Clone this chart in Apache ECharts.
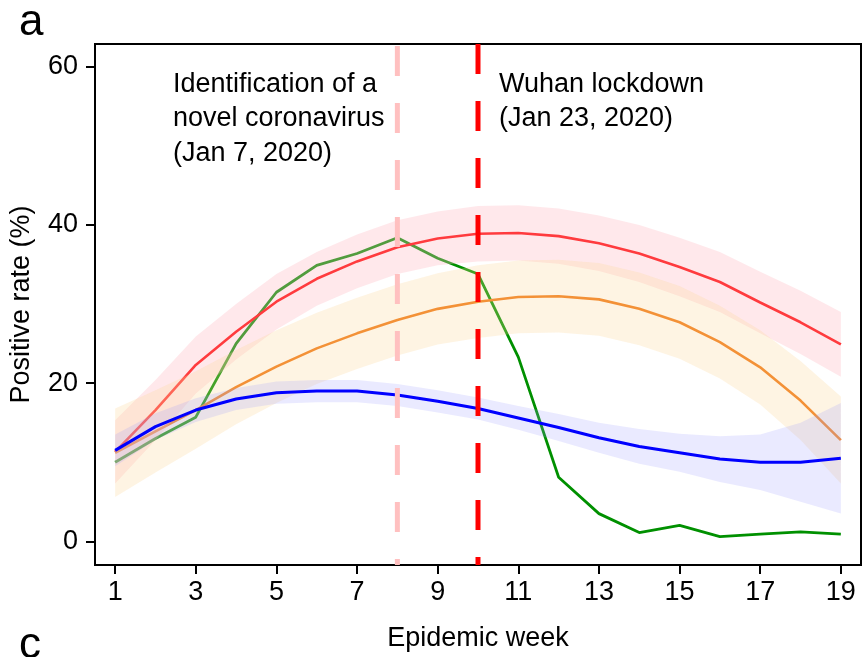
<!DOCTYPE html>
<html><head><meta charset="utf-8">
<script src="https://cdn.jsdelivr.net/npm/echarts@6/dist/echarts.min.js"></script>
<style>html,body{margin:0;padding:0;background:#fff}#c{width:864px;height:657px}</style>
</head><body><div id="c"></div>
<script>
// ---- data ----
const weeks = [1,2,3,4,5,6,7,8,9,10,11,12,13,14,15,16,17,18,19];
const xTicks = [1,3,5,7,9,11,13,15,17,19];
const yTicks = [0,20,40,60];
const eventWeeks = [8, 10];
const eventLabels = ['Identification of a\nnovel coronavirus\n(Jan 7, 2020)', 'Wuhan lockdown\n(Jan 23, 2020)'];

const observed = [10.0,13.0,15.7,25.0,31.5,34.9,36.4,38.4,35.8,33.8,23.3,8.1,3.5,1.1,2.0,0.6,0.9,1.2,0.9];

const redFit   = [11.3,16.6,22.3,26.5,30.3,33.2,35.4,37.2,38.3,38.9,39.0,38.6,37.7,36.4,34.7,32.8,30.2,27.7,24.9];
const redUpper = [15.3,20.4,25.9,30.0,33.8,36.6,38.8,40.6,41.7,42.4,42.5,42.1,41.2,40.0,38.4,36.6,34.1,31.7,29.0];
const redLower = [7.3,12.8,18.7,23.0,26.8,29.8,32.0,33.8,34.9,35.4,35.5,35.1,34.2,32.8,31.0,29.0,26.3,23.7,20.8];

const orangeFit   = [11.2,13.9,16.6,19.5,22.1,24.4,26.3,28.0,29.4,30.3,30.9,31.0,30.6,29.4,27.7,25.2,22.0,17.8,12.8];
const orangeUpper = [16.8,19.1,21.5,24.2,26.7,28.9,30.8,32.5,33.9,34.9,35.5,35.6,35.2,34.0,32.3,29.8,26.7,22.8,18.3];
const orangeLower = [5.6,8.7,11.7,14.8,17.5,19.9,21.8,23.5,24.9,25.7,26.3,26.4,26.0,24.8,23.1,20.6,17.3,12.8,7.3];

const blueFit   = [11.5,14.5,16.6,18.0,18.8,19.0,19.0,18.5,17.7,16.8,15.6,14.4,13.1,12.0,11.2,10.4,10.0,10.0,10.5];
const blueUpper = [13.5,16.2,18.1,19.4,20.2,20.4,20.4,19.9,19.1,18.2,17.1,16.1,15.0,14.2,13.6,13.3,13.5,15.0,17.5];
const blueLower = [9.5,12.8,15.1,16.6,17.4,17.6,17.6,17.1,16.3,15.4,14.1,12.7,11.2,9.8,8.8,7.5,6.5,5.0,3.5];

// ---- chart ----
const FONT = '"Liberation Sans", Arial, sans-serif';
const Y_MIN = -3, Y_MAX = 62.9;
const chart = echarts.init(document.getElementById('c'), null, {renderer: 'canvas'});

function pairs(ys) { return weeks.map((w, i) => [w, ys[i]]); }

function band(upper, lower, color, z) {
  return {
    type: 'custom', z: z, silent: true, clip: true,
    data: [[weeks[0], upper[0]]],
    renderItem: function (params, api) {
      if (params.dataIndex !== 0) return null;
      const pts = [];
      for (let i = 0; i < weeks.length; i++) pts.push(api.coord([weeks[i], upper[i]]));
      for (let i = weeks.length - 1; i >= 0; i--) pts.push(api.coord([weeks[i], lower[i]]));
      return { type: 'polygon', shape: { points: pts }, style: { fill: color } };
    }
  };
}

function line(ys, color, width, z) {
  return {
    type: 'line', z: z, data: pairs(ys), symbol: 'none', silent: true,
    lineStyle: { color: color, width: width }, animation: false
  };
}

function vline(week, color, offset) {
  return {
    type: 'line', z: 10, symbol: 'none', silent: true, animation: false,
    data: [[week, Y_MAX], [week, Y_MIN]],
    lineStyle: { color: color, width: 5, type: [30, 27], dashOffset: offset, cap: 'butt' }
  };
}

const axisCommon = {
  axisLine: { show: true, onZero: false, lineStyle: { color: '#000', width: 2 } },
  splitLine: { show: false },
  nameTextStyle: { fontSize: 27, color: '#000', fontFamily: FONT },
};

chart.setOption({
  animation: false,
  grid: { left: 95, right: 3, top: 44, bottom: 92, show: true, borderColor: '#000', borderWidth: 2, backgroundColor: 'transparent' },
  xAxis: Object.assign({}, axisCommon, {
    type: 'value', min: 0.5, max: 19.5,
    axisTick: { show: true, length: 9, customValues: xTicks, lineStyle: { color: '#000', width: 2 } },
    axisLabel: { customValues: xTicks, margin: 14, fontSize: 27, color: '#000', fontFamily: FONT },
    name: 'Epidemic week', nameLocation: 'middle', nameGap: 60
  }),
  yAxis: Object.assign({}, axisCommon, {
    type: 'value', min: Y_MIN, max: Y_MAX,
    axisTick: { show: true, length: 9, customValues: yTicks, lineStyle: { color: '#000', width: 2 } },
    axisLabel: { customValues: yTicks, margin: 17, fontSize: 27, color: '#000', fontFamily: FONT },
    name: 'Positive rate (%)', nameLocation: 'middle', nameGap: 60
  }),
  series: [
    line(observed, '#009000', 2.8, 2),
    line(redFit, '#FF0000', 2.6, 2),
    line(orangeFit, '#F07814', 2.6, 2),
    band(redUpper, redLower, 'rgba(255,182,193,0.32)', 3),
    band(orangeUpper, orangeLower, 'rgba(250,215,150,0.27)', 3),
    band(blueUpper, blueLower, 'rgba(150,150,255,0.2)', 3),
    line(blueFit, '#0000FF', 3, 4),
    vline(eventWeeks[0], '#FFC0C0', 55),
    vline(eventWeeks[1], '#FF0000', 0)
  ],
  graphic: [
    { type: 'text', left: 19, top: -2, z: 20, style: { text: 'a', fontSize: 44, fontFamily: FONT, fill: '#000', lineHeight: 50 } },
    { type: 'text', left: 19, top: 621, z: 20, style: { text: 'c', fontSize: 44, fontFamily: FONT, fill: '#000', lineHeight: 50 } },
    { type: 'text', left: 173, top: 67, z: 20, style: { text: eventLabels[0], fontSize: 27, fontFamily: FONT, fill: '#000', lineHeight: 34.5 } },
    { type: 'text', left: 499, top: 67, z: 20, style: { text: eventLabels[1], fontSize: 27, fontFamily: FONT, fill: '#000', lineHeight: 34.5 } }
  ]
});
</script></body></html>
